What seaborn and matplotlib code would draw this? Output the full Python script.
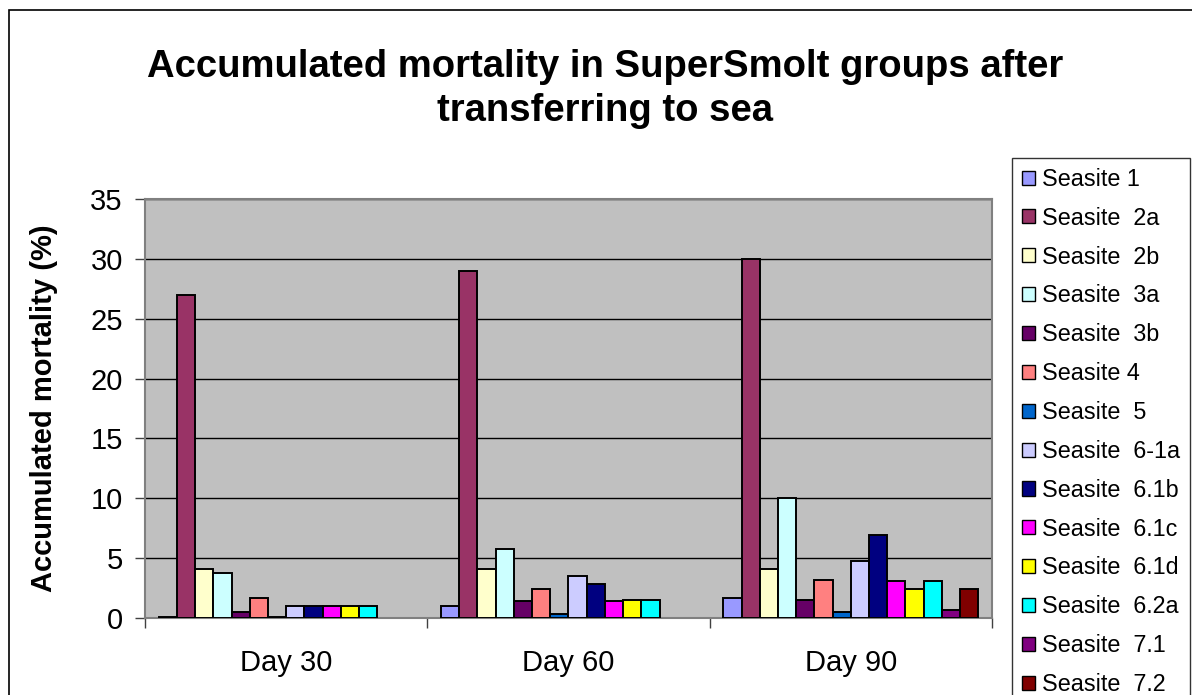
import matplotlib
matplotlib.use("Agg")
import matplotlib.pyplot as plt
import matplotlib.patches as mpatches
import seaborn as sns
import numpy as np
import pandas as pd

# Données (mortalité cumulée en %)
days = ["Day 30", "Day 60", "Day 90"]
sites = ["Seasite 1", "Seasite  2a", "Seasite  2b", "Seasite  3a", "Seasite  3b",
         "Seasite 4", "Seasite  5", "Seasite  6-1a", "Seasite  6.1b", "Seasite  6.1c",
         "Seasite  6.1d", "Seasite  6.2a", "Seasite  7.1", "Seasite  7.2"]
day30 = [0.1, 27.0, 4.1, 3.8, 0.5, 1.7, 0.1, 1.0, 1.0, 1.0, 1.0, 1.0, np.nan, np.nan]
day60 = [1.0, 29.0, 4.1, 5.8, 1.4, 2.4, 0.3, 3.5, 2.8, 1.4, 1.5, 1.5, np.nan, np.nan]
day90 = [1.7, 30.0, 4.1, 10.0, 1.5, 3.2, 0.5, 4.8, 6.9, 3.1, 2.4, 3.1, 0.7, 2.4]
colors = ["#9999FF", "#993366", "#FFFFCC", "#CCFFFF", "#660066", "#FF8080", "#0066CC",
          "#CCCCFF", "#000080", "#FF00FF", "#FFFF00", "#00FFFF", "#800080", "#800000"]

rows = []
for day, vals in zip(days, [day30, day60, day90]):
    for site, v in zip(sites, vals):
        rows.append({"day": day, "site": site, "value": v})
df = pd.DataFrame(rows)
palette = dict(zip(sites, colors))

sns.set_style("white")
plt.rcParams["font.family"] = ["Liberation Sans", "DejaVu Sans"]
plt.rcParams["text.color"] = "black"
plt.rcParams["axes.labelcolor"] = "black"
plt.rcParams["xtick.labelcolor"] = "black"
plt.rcParams["ytick.labelcolor"] = "black"

fig = plt.figure(figsize=(11.92, 6.95), dpi=100)
ax = fig.add_axes([145 / 1192, 77 / 695, 847 / 1192, 419 / 695])

sns.barplot(data=df, x="day", y="value", hue="site", hue_order=sites,
            order=days, palette=palette, width=14 / 15.5, errorbar=None,
            edgecolor="black", linewidth=1.4, saturation=1, legend=False,
            ax=ax, zorder=3)

ax.set_facecolor("#C0C0C0")
ax.set_ylim(0, 35)
ax.set_xlim(-0.5, 2.5)
ax.set_yticks(np.arange(0, 36, 5))
ax.yaxis.grid(True, color="black", linewidth=1, zorder=0)
ax.set_axisbelow(True)
for s in ax.spines.values():
    s.set_visible(True)
    s.set_color("#808080")
    s.set_linewidth(1.5)

ax.tick_params(axis="y", left=True, length=7, width=1, color="#404040",
               labelsize=21, pad=9)
ax.set_xticks([-0.5, 0.5, 1.5, 2.5], minor=True)
ax.tick_params(axis="x", which="minor", bottom=True, length=7, width=1, color="#404040")
ax.tick_params(axis="x", which="major", bottom=False, labelsize=21, pad=19)

ax.set_xlabel("")
ax.set_ylabel("Accumulated mortality (%)", fontsize=21, fontweight="bold")
ax.yaxis.set_label_coords(-0.103, 0.5)

fig.text(605 / 1192, 1 - 49 / 695,
         "Accumulated mortality in SuperSmolt groups after\ntransferring to sea",
         ha="center", va="top", fontsize=27.5, fontweight="bold", linespacing=1.3)

# Légende
handles = [mpatches.Patch(facecolor=c, edgecolor="black", linewidth=1) for c in colors]
leg = fig.legend(handles, sites, loc="upper left",
                 bbox_to_anchor=(1012 / 1192, 1 - 158 / 695),
                 fontsize=16.8, frameon=True, fancybox=False, edgecolor="black",
                 handlelength=0.55, handleheight=0.55, handletextpad=0.3,
                 labelspacing=0.68, borderpad=0.42, borderaxespad=0)
leg.get_frame().set_linewidth(1)

# Cadre de la figure
fig.patches.append(mpatches.Rectangle((9 / 1192, -0.1), 1.2, 1 - 10 / 695 + 0.1,
                                      transform=fig.transFigure, fill=False,
                                      edgecolor="black", linewidth=1.2))

plt.savefig("out.png", dpi=100)
plt.close()
